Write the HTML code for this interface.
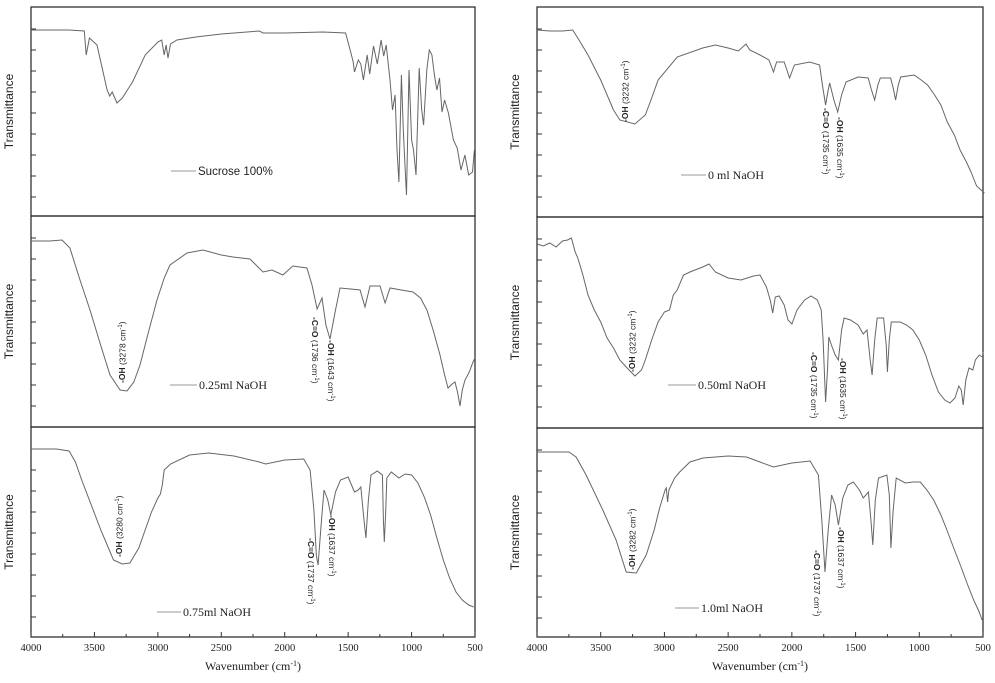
<!DOCTYPE html>
<html><head><meta charset="utf-8"><style>
body{margin:0;background:#fff;}
svg text{font-family:"Liberation Serif",serif;fill:#222;}
.s{font-family:"Liberation Sans",sans-serif;}
</style></head><body>
<svg id="c" width="995" height="678" viewBox="0 0 995 678" xmlns="http://www.w3.org/2000/svg">
<g id="g"></g>
</svg>
<script>
const NS="http://www.w3.org/2000/svg";
const g=document.getElementById('g');
function el(t,a,txt){const e=document.createElementNS(NS,t);for(const k in a)e.setAttribute(k,a[k]);if(txt!==undefined)e.textContent=txt;g.appendChild(e);return e;}
const panels=[
 {x0:31,W:444,y0:7,y1:216,legend:[171,198,175,"Sucrose 100%",1],pts:[[4000,30],[3700,30],[3580,31],[3565,55],[3540,38],[3480,45],[3400,90],[3380,96],[3360,92],[3322,103],[3280,98],[3200,82],[3100,55],[3000,42],[2970,40],[2950,55],[2935,45],[2920,58],[2900,44],[2850,40],[2700,37],[2500,34],[2200,31],[2170,33],[2000,33],[1700,32],[1520,33],[1480,52],[1460,62],[1450,72],[1420,60],[1400,64],[1380,80],[1350,55],[1330,74],[1300,46],[1270,64],[1240,40],[1220,56],[1200,45],[1170,80],[1150,110],[1130,95],[1115,150],[1100,182],[1080,75],[1065,130],[1050,170],[1040,195],[1020,70],[1000,140],[985,150],[965,175],[940,68],[920,110],[905,125],[880,70],[860,50],[840,55],[820,75],[800,90],[780,78],[760,112],[740,100],[710,113],[670,140],[640,148],[610,170],[580,155],[550,175],[520,172],[505,150]],
  ann:[]},
 {x0:31,W:444,y0:216,y1:427,legend:[170,199,389,"0.25ml NaOH",0],pts:[[4000,241],[3850,241],[3756,240],[3693,248],[3614,280],[3535,310],[3456,343],[3377,375],[3298,390],[3243,391],[3190,382],[3141,365],[3070,330],[3007,300],[2950,278],[2904,265],[2770,253],[2644,250],[2500,255],[2408,257],[2274,259],[2171,272],[2100,270],[2014,275],[1936,266],[1825,268],[1785,285],[1745,309],[1706,298],[1675,325],[1643,339],[1600,310],[1564,288],[1480,289],[1406,290],[1367,307],[1328,286],[1249,286],[1209,303],[1170,288],[1080,290],[989,292],[930,298],[879,310],[830,330],[776,355],[740,375],[713,388],[680,384],[658,382],[638,392],[618,406],[600,390],[579,380],[545,372],[516,362],[500,358]],
  ann:[[123,383,-90,"3278"],[314,317,90,"C=O (1736"],[330,340,90,"OH (1643"]]},
 {x0:31,W:444,y0:427,y1:637,legend:[157,183,616,"0.75ml NaOH",0],pts:[[4000,449],[3800,449],[3700,451],[3650,462],[3600,480],[3450,530],[3350,560],[3280,564],[3220,563],[3150,548],[3050,512],[3000,498],[2980,494],[2965,485],[2950,470],[2900,464],[2750,455],[2600,453],[2400,456],[2200,462],[2150,464],[2000,460],[1850,459],[1800,470],[1770,510],[1750,556],[1737,565],[1725,545],[1710,520],[1690,490],[1660,500],[1637,515],[1600,492],[1560,480],[1500,477],[1450,492],[1420,490],[1400,487],[1375,520],[1360,538],[1340,500],[1320,475],[1270,471],[1230,475],[1222,520],[1215,542],[1205,515],[1195,478],[1160,472],[1100,478],[1050,474],[1000,475],[950,483],[900,497],[850,515],[800,538],[750,560],[700,578],[650,592],[600,600],[550,605],[510,607]],
  ann:[[120,557,-90,"3280"],[310,538,90,"C=O (1737"],[331,515,90,"OH (1637"]]},
 {x0:537,W:446,y0:7,y1:217,legend:[681,708,179,"0 ml NaOH",0],pts:[[4000,30],[3900,31],[3800,31],[3720,30],[3680,38],[3600,55],[3500,80],[3400,110],[3350,120],[3232,124],[3150,115],[3100,98],[3050,80],[2900,57],[2700,48],[2600,45],[2500,48],[2420,51],[2360,44],[2330,50],[2250,55],[2180,60],[2144,72],[2120,62],[2060,62],[2018,78],[1980,65],[1860,62],[1782,65],[1760,85],[1735,105],[1715,90],[1703,83],[1670,100],[1640,112],[1610,95],[1575,82],[1480,77],[1401,78],[1375,90],[1350,100],[1325,85],[1306,78],[1225,78],[1205,88],[1186,100],[1165,85],[1146,77],[1040,75],[985,80],[935,85],[880,95],[830,105],[780,122],[725,135],[680,150],[630,162],[594,172],[550,186],[489,193]],
  ann:[[626,122,-90,"3232"],[825,108,90,"C=O (1735"],[839,117,90,"OH (1635"]]},
 {x0:537,W:446,y0:217,y1:428,legend:[668,698,389,"0.50ml NaOH",0],pts:[[4000,244],[3950,246],[3900,243],[3850,247],[3800,241],[3760,240],[3730,238],[3700,252],[3680,258],[3640,275],[3600,295],[3550,310],[3500,322],[3450,338],[3400,348],[3350,360],[3300,367],[3232,376],[3180,370],[3150,360],[3100,340],[3050,322],[3000,312],[2960,310],[2930,295],[2900,290],[2850,275],[2800,272],[2700,267],[2650,264],[2600,272],[2500,278],[2400,280],[2300,276],[2250,275],[2200,287],[2170,300],[2150,313],[2130,297],[2100,296],[2060,305],[2030,320],[2000,324],[1960,310],[1900,300],[1850,296],[1800,300],[1770,310],[1755,340],[1735,402],[1720,370],[1710,337],[1690,345],[1660,355],[1635,360],[1610,330],[1590,318],[1540,320],[1480,325],[1440,334],[1410,330],[1385,360],[1370,375],[1350,340],[1330,318],[1280,318],[1260,345],[1250,372],[1235,340],[1220,322],[1150,322],[1100,325],[1050,330],[1000,340],[950,355],[900,375],[850,392],[800,400],[760,403],[720,398],[690,386],[670,390],[655,405],[635,380],[610,368],[580,370],[560,360],[530,355],[505,357],[500,352]],
  ann:[[633,372,-90,"3232"],[813,352,90,"C=O (1735"],[842,358,90,"OH (1635"]]},
 {x0:537,W:446,y0:428,y1:637,legend:[675,701,612,"1.0ml NaOH",0],pts:[[4000,452],[3750,452],[3693,457],[3615,475],[3484,510],[3379,540],[3300,572],[3221,573],[3143,555],[3080,530],[3038,508],[2995,490],[2985,488],[2975,502],[2965,490],[2920,478],[2880,472],[2800,462],[2697,458],[2500,456],[2356,457],[2250,462],[2145,467],[2000,463],[1857,461],[1792,475],[1765,520],[1740,572],[1715,530],[1688,495],[1660,505],[1635,525],[1600,498],[1560,485],[1517,482],[1470,490],[1439,498],[1399,492],[1380,520],[1365,545],[1345,500],[1320,478],[1254,475],[1235,495],[1223,548],[1205,510],[1181,478],[1110,483],[1050,482],[992,482],[940,490],[887,500],[830,515],[783,530],[730,548],[678,565],[620,585],[573,600],[530,612],[507,620]],
  ann:[[633,570,-90,"3282"],[816,550,90,"C=O (1737"],[840,527,90,"OH (1637"]]}
];
panels.forEach((p,i)=>{
  el('rect',{x:p.x0,y:p.y0,width:p.W,height:p.y1-p.y0,fill:'none',stroke:'#222','stroke-width':1.2});
  for(let y=p.y0+22;y<p.y1-10;y+=21) el('line',{x1:p.x0,y1:y,x2:p.x0+5,y2:y,stroke:'#333','stroke-width':1});
  const pts=p.pts.map(([w,y])=>(p.x0+(4000-w)/3500*p.W).toFixed(1)+','+y).join(' ');
  el('polyline',{points:pts,fill:'none',stroke:'#666','stroke-width':1});
  const yc=(p.y0+p.y1)/2, xl=p.x0-18;
  el('text',{x:xl,y:yc,'font-size':12,'text-anchor':'middle',transform:`rotate(-90 ${xl} ${yc})`,class:'s'},'Transmittance');
  const L=p.legend;
  el('line',{x1:L[0],y1:L[2]-4,x2:L[1]-2,y2:L[2]-4,stroke:'#999','stroke-width':1});
  const lt=el('text',{x:L[1],y:L[2],'font-size':L[4]?11.5:12});
  if(L[4]) lt.setAttribute('class','s');
  lt.textContent=L[3];
  p.ann.forEach(a=>{
    const [x,y,r,t]=a;
    const tx=el('text',{x:x,y:y,'font-size':8.5,class:'s',transform:`rotate(${r} ${x} ${y})`,'dominant-baseline':'middle'});
    if(r<0){tx.innerHTML='<tspan font-weight="bold">-OH</tspan> ('+t+' cm<tspan dy="-3" font-size="6">-1</tspan><tspan dy="3">)</tspan>';}
    else{tx.innerHTML='<tspan font-weight="bold">-'+t.split(' ')[0]+'</tspan> '+t.substring(t.indexOf(' ')+1)+' cm<tspan dy="-3" font-size="6">-1</tspan><tspan dy="3">)</tspan>';}
  });
  if(i==2||i==5){
    for(let k=0;k<=14;k++){const x=p.x0+k*p.W/14;const h=(k%2==0)?5:3;el('line',{x1:x,y1:p.y1,x2:x,y2:p.y1-h,stroke:'#333','stroke-width':1});}
    [4000,3500,3000,2500,2000,1500,1000,500].forEach((w,k)=>{
      el('text',{x:p.x0+k*p.W/7,y:651,'font-size':10.5,'text-anchor':'middle'},w);
    });
    const tx=el('text',{x:p.x0+p.W/2,y:670,'font-size':12,'text-anchor':'middle'});
    tx.innerHTML='Wavenumber (cm<tspan dy="-4" font-size="8">-1</tspan><tspan dy="4">)</tspan>';
  }
});
</script>
</body></html>
